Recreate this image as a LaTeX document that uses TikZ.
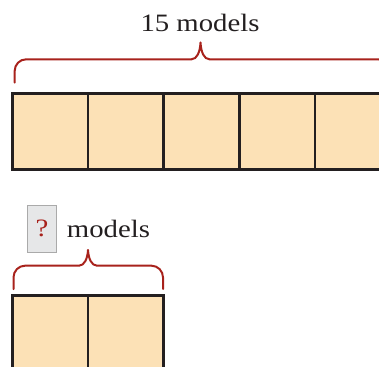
\documentclass[tikz,border=0pt]{standalone}
\usepackage{fontspec}
\setmainfont{Liberation Serif}[FakeStretch=1.15]
\definecolor{sqfill}{RGB}{252,225,182}
\definecolor{sqline}{RGB}{35,31,32}
\definecolor{bracered}{RGB}{168,34,28}
\definecolor{qfill}{RGB}{230,231,232}
\definecolor{qline}{RGB}{170,170,170}
\definecolor{txt}{RGB}{35,31,32}
\tikzset{
  sq/.style={draw=sqline, fill=sqfill, line width=2.8pt, minimum width=75.7pt, minimum height=75.7pt, inner sep=0pt, outer sep=0pt},
  brace/.style={draw=bracered, line width=2pt, line cap=round, line join=round},
  lbl/.style={inner sep=0pt, text=txt, font=\fontsize{25}{30}\selectfont},
  qbox/.style={draw=qline, fill=qfill, line width=1pt, minimum width=29.5pt, minimum height=47pt, inner sep=0pt, text=bracered, font=\fontsize{25}{30}\selectfont}
}
\begin{document}
\begin{tikzpicture}[x=1pt,y=-1pt]
\useasboundingbox (0,0) rectangle (379,366);
\clip (0,0) rectangle (379,366);
% top row
\node[sq] (t1) at (50.05,131.6) {};
\node[sq] (t2) at (125.75,131.6) {};
\node[sq] (t3) at (201.45,131.6) {};
\node[sq] (t4) at (277.15,131.6) {};
\node[sq] (t5) at (352.85,131.6) {};
% bottom row
\node[sq] (b1) at (50.05,333.35) {};
\node[sq] (b2) at (125.75,333.35) {};
% top brace
\draw[brace] (14.7,82.7) -- (14.7,70.8)
  .. controls (14.7,64.45) and (19.85,59.3) .. (26.2,59.3)
  -- (191.5,59.3)
  .. controls (197,59.3) and (200,52) .. (200.5,42.5)
  .. controls (201,52) and (204,59.3) .. (209.5,59.3)
  -- (378,59.3)
  .. controls (384.35,59.3) and (389.5,64.45) .. (389.5,70.8) -- (389.5,82.7);
% bottom brace
\draw[brace] (13.5,289) -- (13.5,277.4)
  .. controls (13.5,271) and (18.6,265.7) .. (25,265.7)
  -- (79,265.7)
  .. controls (84.5,265.7) and (87.5,258.5) .. (88,250)
  .. controls (88.5,258.5) and (91.5,265.7) .. (97,265.7)
  -- (151.5,265.7)
  .. controls (157.9,265.7) and (163,271) .. (163,277.4) -- (163,289);
% labels
\node[lbl, anchor=base] (top) at (200,31.5) {15 models};
\node[qbox] (q) at (42,228.5) {?};
\node[lbl, anchor=base west] (bot) at (66.7,237) {models};
\end{tikzpicture}
\end{document}
